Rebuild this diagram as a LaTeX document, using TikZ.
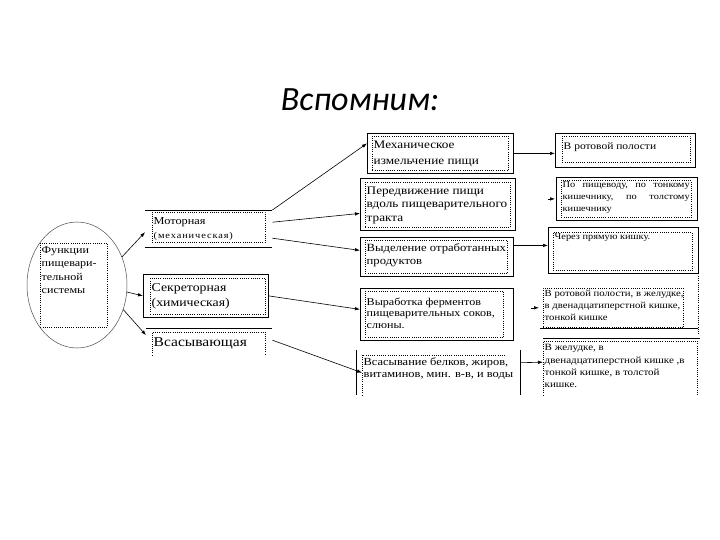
\documentclass[tikz,border=0pt]{standalone}
\usepackage{fontspec}
\setmainfont{Liberation Serif}[FakeStretch=1.15]
\newfontfamily\titlefont{Carlito}
\usetikzlibrary{arrows.meta,shapes.geometric}
\tikzset{
  dotline/.style={line width=0.6pt, dash pattern=on 0.8pt off 1.4pt},
  rule/.style={line width=0.8pt},
  frame/.style={draw, rule, anchor=north west, inner sep=0pt},
  ghost/.style={anchor=north west, inner sep=0pt},
  dotbox/.style={draw, dotline, anchor=north west, inner sep=0pt},
  txt/.style={anchor=north west, inner sep=1.5pt, align=left},
  arr/.style={-{Latex[length=5pt,width=3.5pt]}, line width=0.6pt},
}
\begin{document}
\begin{tikzpicture}[x=1pt, y=-1pt]
        % Фон
        \fill[white] (0,0) rectangle (720,540);
        \useasboundingbox (0,0) rectangle (720,540);

        % Заголовок
        \node[font=\titlefont\itshape\fontsize{34}{40}\selectfont] (title) at (360,100) {Вспомним:};

        % Функции
        \node[draw=black!70, line width=0.5pt, ellipse, minimum width=100, minimum height=126, inner sep=0pt] (func) at (77,285) {};
        \node[dotbox, minimum width=67, minimum height=84] (funcB) at (40,243) {};
        \node[txt, font=\fontsize{10.5}{13.3}\selectfont] (funcT) at ([shift={(0,2)}]funcB.north west) {Функции\\пищевари-\\тельной\\системы};

        % Первый уровень
        \node[ghost, minimum width=127, minimum height=37] (motorF) at (145,210) {};
        \draw[rule] (motorF.north west) -- (motorF.north east) (motorF.south west) -- (motorF.south east);
        \node[dotbox, minimum width=113, minimum height=30] (motor) at (152,212) {};
        \node[txt, font=\fontsize{10.7}{14}\selectfont] (motorT) at ([shift={(0,4)}]motor.north west) {Моторная\\{\fontsize{9}{14}\selectfont\addfontfeature{LetterSpace=10}(механическая)}};

        \node[frame, minimum width=125, minimum height=43] (secrF) at (143,274) {};
        \node[dotbox, minimum width=115, minimum height=36] (secr) at (150,278) {};
        \node[txt, font=\fontsize{12}{15}\selectfont] (secrT) at ([shift={(0,4)}]secr.north west) {Секреторная\\(химическая)};

        \node[ghost, minimum width=126, minimum height=14] (absF) at (146,328) {};
        \draw[rule] (absF.north west) -- (absF.north east);
        \node[ghost, minimum width=113, minimum height=23] (abs) at (152,332) {};
        \draw[dotline] (abs.south west) -- (abs.north west) -- (abs.north east) -- (abs.south east);
        \node[txt, font=\fontsize{13.5}{16}\selectfont] (absT) at ([shift={(0,4)}]abs.north west) {Всасывающая};

        % Второй уровень
        \node[frame, minimum width=146, minimum height=40] (mechF) at (367,133) {};
        \node[dotbox, minimum width=136, minimum height=34] (mech) at (372,136) {};
        \node[txt, font=\fontsize{11.5}{16.5}\selectfont] (mechT) at ([shift={(0,3)}]mech.north west) {Механическое\\измельчение пищи};

        \node[frame, minimum width=155, minimum height=52] (moveF) at (360,178) {};
        \node[dotbox, minimum width=145, minimum height=45] (move) at (365,182) {};
        \node[txt, font=\fontsize{11.5}{13.5}\selectfont] (moveT) at ([shift={(0,3)}]move.north west) {Передвижение пищи\\вдоль пищеварительного\\тракта};

        \node[frame, minimum width=153, minimum height=39] (excrF) at (360,237) {};
        \node[dotbox, minimum width=142, minimum height=33] (excr) at (365,240) {};
        \node[txt, font=\fontsize{11}{13}\selectfont] (excrT) at ([shift={(0,1.5)}]excr.north west) {Выделение отработанных\\продуктов};

        \node[frame, minimum width=153, minimum height=52] (enzF) at (360,288) {};
        \node[dotbox, minimum width=138, minimum height=46] (enz) at (365,291) {};
        \node[txt, font=\fontsize{10.5}{11.7}\selectfont] (enzT) at ([shift={(0,5)}]enz.north west) {Выработка ферментов\\пищеварительных соков,\\слюны.};

        \node[ghost, minimum width=164, minimum height=45] (absbF) at (356,350) {};
        \draw[rule] (absbF.north west) -- (absbF.south west) (absbF.north east) -- (absbF.south east);
        \node[ghost, minimum width=143, minimum height=40] (absb) at (362,355) {};
        \draw[dotline] (absb.south west) -- (absb.north west) -- (absb.north east);
        \node[txt, font=\fontsize{10.8}{12}\selectfont] (absbT) at ([shift={(0,1)}]absb.north west) {Всасывание белков, жиров,\\витаминов, мин. в-в, и воды};

        % Третий уровень
        \node[frame, minimum width=140, minimum height=34] (mouthF) at (555,133) {};
        \node[dotbox, minimum width=128, minimum height=26] (mouth) at (562,136) {};
        \node[txt, font=\fontsize{10}{12}\selectfont] (mouthT) at ([shift={(0,5)}]mouth.north west) {В ротовой полости};

        \node[frame, minimum width=141, minimum height=43] (pathF) at (556,177) {};
        \node[dotbox, minimum width=130, minimum height=37] (path) at (561,180) {};
        \node[txt, text width=127pt, font=\fontsize{9}{12}\selectfont] (pathT) at (path.north west) {По\hfill пищеводу,\hfill по\hfill тонкому\\кишечнику,\hfill по\hfill толстому\\кишечнику};

        \node[frame, minimum width=150, minimum height=46] (rectF) at (548,227) {};
        \node[dotbox, minimum width=139, minimum height=38] (rect) at (553,232) {};
        \node[txt, font=\fontsize{9}{12}\selectfont] (rectT) at (rect.north west) {Через прямую кишку.};

        \node[ghost, minimum width=158, minimum height=52] (digF) at (540,276) {};
        \draw[rule] (digF.south west) -- (digF.south east);
        \draw[dotline] (digF.north east) -- ([yshift=-6pt]digF.south east);
        \node[dotbox, minimum width=140, minimum height=39] (dig) at (543,288) {};
        \node[txt, font=\fontsize{9.3}{12}\selectfont] (digT) at (dig.north west) {В ротовой полости, в желудке,\\в двенадцатиперстной кишке,\\тонкой кишке};

        \node[ghost, minimum width=157, minimum height=14] (absrF) at (543,338) {};
        \draw[rule] (absrF.north west) -- (absrF.north east);
        \node[ghost, minimum width=154, minimum height=54] (absr) at (543,341) {};
        \draw[dotline] (absr.south west) -- (absr.north west) -- (absr.north east) -- (absr.south east);
        \node[txt, font=\fontsize{9.6}{12.3}\selectfont] (absrT) at ([shift={(0,2)}]absr.north west) {В желудке, в\\двенадцатиперстной кишке ,в\\тонкой кишке, в толстой\\кишке.};

        % Стрелки
        \draw[arr] (func.32) -- ([yshift=-3.5pt]motorF.west);
        \draw[arr] (func.-8) -- (secrF.west);
        \draw[arr] (func.-28) -- (absF.west);
        \draw[arr] (motorF.north east) -- ([yshift=10pt]mechF.west);
        \draw[arr] ([yshift=6.5pt]motorF.east) -- ([yshift=-9pt]moveF.west);
        \draw[arr] ([yshift=-9.5pt]motorF.east) -- ([yshift=6.5pt]excrF.west);
        \draw[arr] (secrF.east) -- ([yshift=5pt]enzF.west);
        \draw[arr] ([yshift=-5pt]absF.east) -- ([xshift=6pt]absbF.west);
        \draw[arr] (mechF.east) -- (mechF.east -| mouthF.west);
        \draw[arr] ([xshift=-8pt]pathF.west) -- ([xshift=-1pt]pathF.west);
        \draw[arr] ([yshift=11.5pt]excrF.east) -- ([yshift=5pt]rectF.west);
        \draw[arr] ([xshift=-12pt]dig.west) -- ([xshift=-4pt]dig.west);
        \draw[arr] ([yshift=10pt]absbF.east) -- ([yshift=6pt]absr.west);
\end{tikzpicture}
\end{document}
